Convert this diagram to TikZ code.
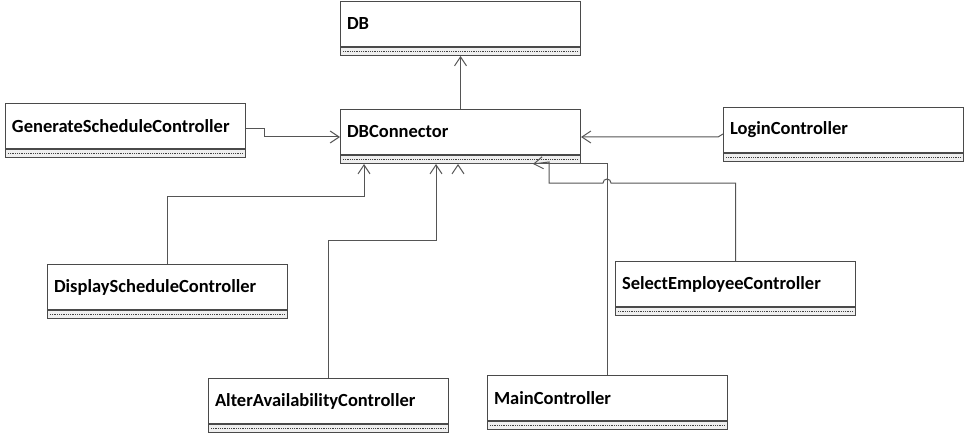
\documentclass[tikz,border=0pt]{standalone}
\usepackage{fontspec}
\setmainfont{Carlito}
\usepackage{tikz}
\usetikzlibrary{calc,positioning,arrows.meta}
\definecolor{boxline}{HTML}{4A4A4A}
\definecolor{wirecol}{HTML}{555555}
\definecolor{bandfill}{HTML}{EFEFEF}
\tikzset{
  cls/.style={draw=boxline, line width=1pt, fill=white, minimum width=240pt, minimum height=45pt,
    text width=227pt, inner xsep=6.5pt, align=left, anchor=north west,
    font=\bfseries\fontsize{18.5}{20}\selectfont},
  band/.style={draw=boxline, line width=1pt, fill=bandfill, minimum width=240pt, minimum height=8pt,
    inner sep=0pt, anchor=north west},
  dots/.style={draw=black!75, line width=0.5pt, dash pattern=on 1pt off 0.8pt},
  wire/.style={draw=wirecol, line width=1pt},
  dep/.style={wire, -{Straight Barb[length=9pt,width=12pt]}}
}
\begin{document}
\begin{tikzpicture}[x=1pt,y=-1pt]
  \useasboundingbox (0,0) rectangle (964,433);
  \node[cls] (db) at (340,1) {DB};
  \node[cls] (dbc) at (340,109) {DBConnector};
  \node[cls] (gen) at (5,103) {GenerateScheduleController};
  \node[cls] (login) at (723,107) {LoginController};
  \node[cls] (disp) at (47,264) {DisplayScheduleController};
  \node[cls] (sel) at (615,261) {SelectEmployeeController};
  \node[cls] (alter) at (208,378) {AlterAvailabilityController};
  \node[cls] (main) at (487,375) {MainController};
  \foreach \n in {db,dbc,gen,login,disp,sel,alter,main} {
    \node[band] (\n-b) at (\n.south west) {};
    \draw[dots] ($(\n-b.west)+(3,0)$) -- ($(\n-b.east)+(-3,0)$);
  }
  \coordinate (in1) at ($(dbc-b.south west)+(24,0)$);
  \coordinate (in2) at ($(dbc-b.south west)+(96,0)$);
  \coordinate (in3) at ($(dbc-b.south west)+(118,0)$);
  \coordinate (in4) at ($(dbc-b.south west)+(193,0)$);
  \draw[dep] (dbc.north) -- (db-b.south);
  \draw[dep] ([yshift=-3pt]gen.east) -- ++(18,0) |- ([yshift=-5pt]dbc.east -| dbc.west);
  \draw[dep] ([yshift=-4pt]login.west) -- ++(-5,3) |- ([yshift=-5pt]dbc.east);
  \draw[dep] (disp.north) |- ($(in1)+(0,32)$) -- (in1);
  \draw[dep] (alter.north) |- ($(in2)+(0,76)$) -- (in2);
  \draw[wire] (main.north) |- (in3);
  \draw[dep] ($(in3)+(0,1)$) -- (in3);
  \draw[dep] (sel.north) |- (611,183) arc (0:-180:4) -- (549,183) -- (549,162) -- (in4);
\end{tikzpicture}
\end{document}
